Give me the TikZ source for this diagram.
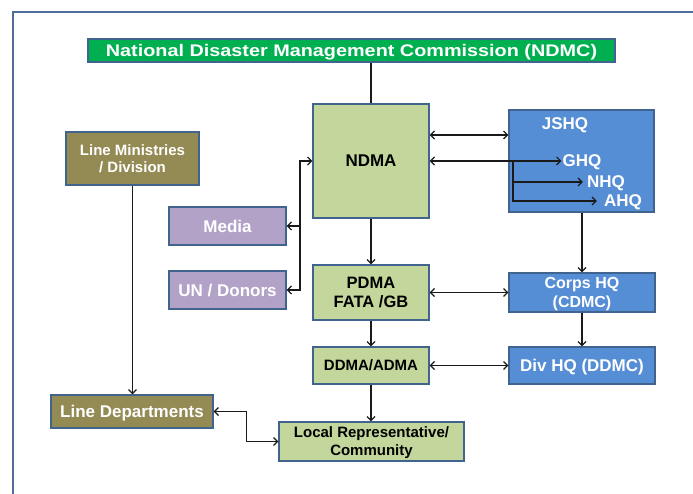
\documentclass[tikz,border=0pt]{standalone}
\usepackage{fontspec}
\setmainfont{Liberation Sans}
\usetikzlibrary{arrows.meta,calc}
\definecolor{ndmcgreen}{HTML}{00B050}
\definecolor{lgreen}{HTML}{C3D69B}
\definecolor{mblue}{HTML}{558ED5}
\definecolor{mpurple}{HTML}{B3A2C7}
\definecolor{molive}{HTML}{948A54}
\definecolor{bordercol}{HTML}{41648F}
\definecolor{framecol}{HTML}{4F6C9A}
\definecolor{linecol}{HTML}{1A1A1A}
\tikzset{
  fsz/.style 2 args={font=\fontsize{#1}{#2}\selectfont\bfseries},
  box/.style={draw=bordercol, line width=1.3pt, inner sep=0pt, align=center, text depth=0pt},
  gbox/.style={box, fill=lgreen, text=black},
  bbox/.style={box, fill=mblue, text=white},
  pbox/.style={box, fill=mpurple, text=white},
  obox/.style={box, fill=molive, text=white},
  conn/.style={draw=linecol, line width=1.2pt},
  arr/.style={conn, -{Straight Barb[length=4pt,width=8pt]}},
  darr/.style={conn, {Straight Barb[length=4pt,width=8pt]}-{Straight Barb[length=4pt,width=8pt]}},
  lbl/.style={text=white, inner sep=1pt, text depth=0pt, fsz={17}{17}}
}
\begin{document}
\begin{tikzpicture}[x=1pt,y=-1pt]
\useasboundingbox (0,0) rectangle (693,494);
% frame
\draw[framecol, line width=2pt] (12.5,500) -- (12.5,12.5) -- (700,12.5);

% nodes
\node[box, fill=ndmcgreen, text=white, minimum width=527pt, minimum height=23pt, fsz={16.8}{17}] (ndmc) at (351.5,50.5)
  {\scalebox{1.18}[1]{National Disaster Management Commission (NDMC)}};
\node[gbox, minimum width=116pt, minimum height=114pt, fsz={17}{17}] (ndma) at (371,161) {NDMA};
\node[bbox, minimum width=145pt, minimum height=102pt] (jshq) at (581.5,161) {};
\node[lbl] (jshqt) at (565,124) {JSHQ};
\node[lbl] (ghq) at (582,161) {GHQ};
\node[lbl, inner sep=4pt] (nhq) at (606,182) {NHQ};
\node[lbl, inner sep=7pt] (ahq) at (623,201) {AHQ};
\node[pbox, minimum width=117pt, minimum height=38pt, fsz={17}{17}] (media) at (227.5,226) {Media};
\node[pbox, minimum width=117pt, minimum height=38pt, fsz={17}{17}] (un) at (227.5,290) {UN / Donors};
\node[obox, minimum width=133pt, minimum height=53pt, fsz={15}{17}] (lm) at (132.5,158.5)
  {Line Ministries\\ / Division};
\node[gbox, minimum width=116pt, minimum height=55pt, fsz={16.5}{19}] (pdma) at (371,292.5)
  {PDMA\\FATA /GB};
\node[bbox, minimum width=146pt, minimum height=39pt, fsz={16}{19.5}] (corps) at (582,292.5)
  {Corps HQ\\(CDMC)};
\node[gbox, minimum width=116pt, minimum height=37pt, fsz={15}{15}] (ddma) at (371,365.5) {DDMA/ADMA};
\node[bbox, minimum width=146pt, minimum height=37pt, fsz={17}{17}] (div) at (582,365.5) {Div HQ (DDMC)};
\node[obox, minimum width=162pt, minimum height=33pt, fsz={17}{17}] (ld) at (132,411.5) {Line Departments};
\node[gbox, minimum width=185pt, minimum height=39pt, fsz={15}{18}] (local) at (371.5,441.5)
  {Local Representative/\\Community};

% helper coordinates
\coordinate (hub) at (513,161);
\coordinate (mx) at (300,161);

% connectors
\draw[conn] (ndma.north |- ndmc.south) -- (ndma.north);
\draw[darr] ([yshift=26pt]ndma.east) -- ([yshift=26pt]ndma.east -| jshq.west);
\draw[arr] (hub) -- (ndma.east);
\draw[arr] (hub) -- (ghq.west);
\draw[arr] (hub) |- (nhq.west);
\draw[arr] (hub) |- (ahq.west);
\draw[darr] (un.east) -- (un.east -| mx) |- (ndma.west);
\draw[arr] (media.east -| mx) -- (media.east);
\draw[arr] (ndma.south) -- (pdma.north);
\draw[darr] (pdma.east) -- (corps.west);
\draw[arr] (corps.north |- jshq.south) -- (corps.north);
\draw[arr] (corps.south) -- (div.north);
\draw[arr] (pdma.south) -- (ddma.north);
\draw[darr] (ddma.east) -- (div.west);
\draw[arr] (ddma.south) -- (ddma.south |- local.north);
\draw[arr] (lm.south) -- (lm.south |- ld.north);
\draw[darr] (ld.east) -- ++(33,0) |- (local.west);
\end{tikzpicture}
\end{document}
